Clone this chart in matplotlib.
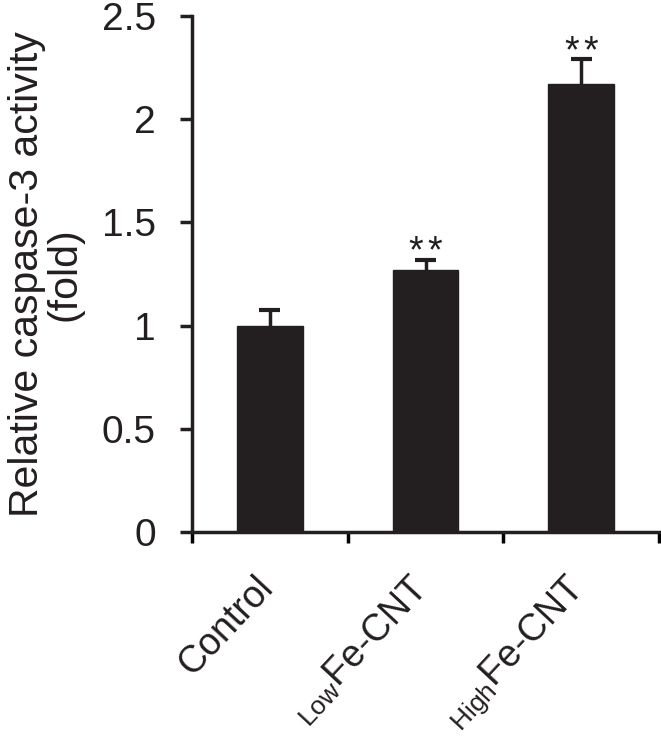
import matplotlib
matplotlib.use('agg')
import matplotlib.pyplot as plt
from matplotlib.transforms import ScaledTranslation
import numpy as np

groups = ['Control', r'$_{\mathrm{Low}}$Fe-CNT', r'$_{\mathrm{High}}$Fe-CNT']
values = [1.0, 1.27, 2.17]
errors = [0.075, 0.05, 0.12]
stars = [0, 2, 2]
yticks = [0, 0.5, 1, 1.5, 2, 2.5]
yticklabels = ['0', '0.5', '1', '1.5', '2', '2.5']

plt.rcParams['font.family'] = ['Liberation Sans', 'DejaVu Sans']
plt.rcParams['mathtext.fontset'] = 'custom'
plt.rcParams['mathtext.rm'] = 'Liberation Sans'

dark = '#231f20'
fig = plt.figure(figsize=(6.61, 7.41), dpi=100)
ax = fig.add_axes([192/661, 1 - 532/741, (659-192)/661, (532-16)/741])

x = np.arange(len(values))
ax.bar(x, values, width=0.42, color=dark, edgecolor=dark)
tops = np.array(values) + np.array(errors)
# only the upper half of each error bar, as in the original
ax.vlines(x, values, tops, color=dark, lw=2.5)
ax.hlines(tops, x - 0.068, x + 0.068, color=dark, lw=3)
for i, n in enumerate(stars):
    for k in range(n):
        off = (k - (n - 1) / 2) * 13.5
        ax.annotate('*', (x[i], tops[i]), xytext=(off, -2),
                    textcoords='offset points', ha='center', va='baseline',
                    fontsize=27, color=dark)

ax.set_xlim(-0.5, 2.5)
ax.set_ylim(0, 2.5)
ax.set_yticks(yticks)
ax.set_yticklabels(yticklabels, fontsize=28)
ax.set_xticks([-0.5, 0.5, 1.5, 2.5])
ax.set_xticklabels([])
ax.tick_params(axis='x', length=8, width=2.5, direction='out')
ax.tick_params(axis='y', length=9, width=2.5, direction='out', pad=17,
               colors=dark)

# category names, rotated, anchored under each bar
lab_tr = ax.get_xaxis_transform() + ScaledTranslation(-16/100, -38/100, fig.dpi_scale_trans)
for i, g in enumerate(groups):
    ax.text(x[i], 0, g, transform=lab_tr, rotation=47, ha='right', va='top',
            rotation_mode='anchor', fontsize=27, color=dark)

for s in ['top', 'right']:
    ax.spines[s].set_visible(False)
for s in ['left', 'bottom']:
    ax.spines[s].set_linewidth(2.5)
    ax.spines[s].set_color(dark)

ax.set_ylabel('Relative caspase-3 activity\n(fold)', fontsize=29.5,
              linespacing=1.0, color=dark)
ax.yaxis.set_label_coords(-108/467, 0.5)

fig.savefig('out.png', dpi=100)
